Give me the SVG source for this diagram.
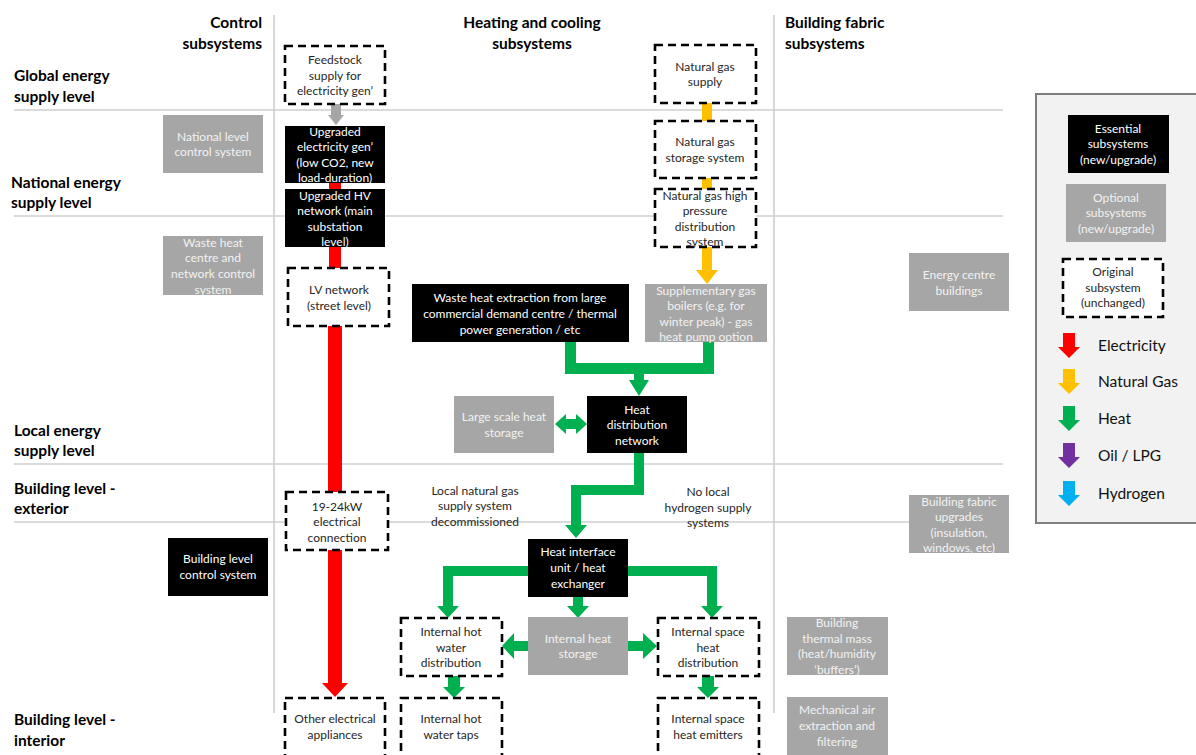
<svg xmlns="http://www.w3.org/2000/svg" width="1196" height="755" viewBox="0 0 1196 755">
<style>
text{font-family:Lato,"Liberation Sans",sans-serif}
.h{font-size:15.5px;font-weight:bold;fill:#000}
.t{font-size:12px;text-anchor:middle}
.tw{fill:#fff}
.tg{fill:#f2f2f2}
.td{fill:#262626}
.lg{font-size:15.5px;fill:#111}
.ess{fill:#000}
.opt{fill:#a6a6a6}
.ori{fill:#fff;stroke:#000;stroke-width:2.6;stroke-dasharray:8 5}
.grid{stroke:#cfcfcf;stroke-width:1.6;fill:none}
.el{fill:#ff0000}.ng{fill:#ffc000}.ht{fill:#00b050}.oil{fill:#7030a0}.hy{fill:#00b0f0}.gr{fill:#a6a6a6}
</style>
<defs>
<path id="la" d="M-6,0 L6,0 L6,14 L11,14 L0,25 L-11,14 L-6,14 Z"/>
</defs>
<rect width="1196" height="755" fill="#fff"/>
<g id="grid">
<line class="grid" x1="14" y1="110" x2="1003" y2="110"/>
<line class="grid" x1="14" y1="216" x2="1003" y2="216"/>
<line class="grid" x1="14" y1="464" x2="1003" y2="464"/>
<line class="grid" x1="14" y1="522" x2="1003" y2="522"/>
<line class="grid" x1="274" y1="15" x2="274" y2="713"/>
<line class="grid" x1="774" y1="15" x2="774" y2="713"/>
</g>
<g id="headers">
<text class="h" x="262" y="28" text-anchor="end">Control</text>
<text class="h" x="262" y="49" text-anchor="end">subsystems</text>
<text class="h" x="532" y="28" text-anchor="middle">Heating and cooling</text>
<text class="h" x="532" y="49" text-anchor="middle">subsystems</text>
<text class="h" x="785" y="28">Building fabric</text>
<text class="h" x="785" y="49">subsystems</text>
<text class="h" x="14" y="81">Global energy</text>
<text class="h" x="14" y="102">supply level</text>
<text class="h" x="11" y="188">National energy</text>
<text class="h" x="11" y="208">supply level</text>
<text class="h" x="14" y="436">Local energy</text>
<text class="h" x="14" y="456">supply level</text>
<text class="h" x="14" y="494">Building level -</text>
<text class="h" x="14" y="514">exterior</text>
<text class="h" x="14" y="725">Building level -</text>
<text class="h" x="14" y="746">interior</text>
</g>
<g id="connectors">
<path class="gr" d="M331,104 L341,104 L341,115 L344,115 L336,125 L328,115 L331,115 Z"/>
<rect class="el" x="329" y="183" width="12" height="7"/>
<rect class="el" x="329" y="246" width="12" height="23"/>
<rect class="el" x="328" y="326" width="14" height="167"/>
<path class="el" d="M328,550 L342,550 L342,683 L348,683 L335,697 L322,683 L328,683 Z"/>
<rect class="ng" x="702" y="102" width="10" height="19"/>
<rect class="ng" x="702" y="177" width="10" height="13"/>
<path class="ng" d="M702,247 L712,247 L712,270 L718,270 L707,284 L696,270 L702,270 Z"/>
<path class="ht" d="M565,342 L576,342 L576,363 L703,363 L703,342 L714,342 L714,374 L644,374 L644,380 L649,380 L639,396 L629,380 L634,380 L634,374 L565,374 Z"/>
<path class="ht" d="M555,424 L566,414 L566,419 L576,419 L576,414 L587,424 L576,434 L576,429 L566,429 L566,434 Z"/>
<path class="ht" d="M634,453 L644,453 L644,495 L581,495 L581,525 L587,525 L576,538 L565,525 L571,525 L571,485 L634,485 Z"/>
<path class="ht" d="M528,566 L528,576 L453,576 L453,606 L459,606 L448,618 L437,606 L443,606 L443,566 Z"/>
<path class="ht" d="M628,566 L717,566 L717,606 L723,606 L712,618 L701,606 L707,606 L707,576 L628,576 Z"/>
<path class="ht" d="M573,596 L583,596 L583,606 L589,606 L578,618 L567,606 L573,606 Z"/>
<path class="ht" d="M528,641 L514,641 L514,633 L502,646 L514,659 L514,651 L528,651 Z"/>
<path class="ht" d="M628,641 L643,641 L643,633 L657,646 L643,659 L643,651 L628,651 Z"/>
<path class="ht" d="M448,676 L460,676 L460,687 L465,687 L454,698 L443,687 L448,687 Z"/>
<path class="ht" d="M702,676 L714,676 L714,687 L719,687 L708,698 L697,687 L702,687 Z"/>
</g>
<g id="n-feedstock"><rect class="ori" x="285" y="46" width="100" height="58"/>
<text class="t td" x="335" y="64">Feedstock</text><text class="t td" x="335" y="80">supply for</text><text class="t td" x="335" y="95">electricity gen’</text></g>
<g id="n-elecgen"><rect class="ess" x="285" y="126" width="100" height="57"/>
<text class="t tw" x="335" y="136">Upgraded</text><text class="t tw" x="335" y="151">electricity gen’</text><text class="t tw" x="335" y="167">(low CO2, new</text><text class="t tw" x="335" y="182">load-duration)</text></g>
<g id="n-hv"><rect class="ess" x="285" y="189" width="100" height="58"/>
<text class="t tw" x="335" y="200">Upgraded HV</text><text class="t tw" x="335" y="215">network (main</text><text class="t tw" x="335" y="231">substation</text><text class="t tw" x="335" y="246">level)</text></g>
<g id="n-lv"><rect class="ori" x="288" y="268" width="101" height="58"/>
<text class="t td" x="339" y="294">LV network</text><text class="t td" x="339" y="310">(street level)</text></g>
<g id="n-conn"><rect class="ori" x="286" y="492" width="102" height="58"/>
<text class="t td" x="337" y="511">19-24kW</text><text class="t td" x="337" y="526">electrical</text><text class="t td" x="337" y="542">connection</text></g>
<g id="n-appl"><rect class="ori" x="285" y="698" width="100" height="62"/>
<text class="t td" x="335" y="723">Other electrical</text><text class="t td" x="335" y="739">appliances</text></g>
<g id="n-natctrl"><rect class="opt" x="163" y="115" width="100" height="58"/>
<text class="t tg" x="213" y="141">National level</text><text class="t tg" x="213" y="156">control system</text></g>
<g id="n-whctrl"><rect class="opt" x="163" y="236" width="100" height="59"/>
<text class="t tg" x="213" y="247">Waste heat</text><text class="t tg" x="213" y="262">centre and</text><text class="t tg" x="213" y="278">network control</text><text class="t tg" x="213" y="294">system</text></g>
<g id="n-bldctrl"><rect class="ess" x="168" y="538" width="100" height="58"/>
<text class="t tw" x="218" y="563">Building level</text><text class="t tw" x="218" y="579">control system</text></g>
<g id="n-ngsupply"><rect class="ori" x="655" y="45" width="101" height="58"/>
<text class="t td" x="705" y="71">Natural gas</text><text class="t td" x="705" y="86">supply</text></g>
<g id="n-ngstore"><rect class="ori" x="655" y="121" width="101" height="57"/>
<text class="t td" x="705" y="146">Natural gas</text><text class="t td" x="705" y="162">storage system</text></g>
<g id="n-nghp"><rect class="ori" x="655" y="189" width="101" height="58"/>
<text class="t td" x="705" y="200">Natural gas high</text><text class="t td" x="705" y="215">pressure</text><text class="t td" x="705" y="231">distribution</text><text class="t td" x="705" y="246">system</text></g>
<g id="n-boilers"><rect class="opt" x="645" y="284" width="122" height="58"/>
<text class="t tg" x="706" y="295">Supplementary gas</text><text class="t tg" x="706" y="310">boilers (e.g. for</text><text class="t tg" x="706" y="326">winter peak) - gas</text><text class="t tg" x="706" y="341">heat pump option</text></g>
<g id="n-waste"><rect class="ess" x="412" y="284" width="217" height="58"/>
<text class="t tw" x="520" y="302">Waste heat extraction from large</text><text class="t tw" x="520" y="318">commercial demand centre / thermal</text><text class="t tw" x="520" y="334">power generation / etc</text></g>
<g id="n-lsstore"><rect class="opt" x="454" y="396" width="100" height="57"/>
<text class="t tg" x="504" y="421">Large scale heat</text><text class="t tg" x="504" y="437">storage</text></g>
<g id="n-hdn"><rect class="ess" x="587" y="396" width="100" height="57"/>
<text class="t tw" x="637" y="414">Heat</text><text class="t tw" x="637" y="429">distribution</text><text class="t tw" x="637" y="445">network</text></g>
<g id="n-nogas"><text class="t td" x="475" y="495">Local natural gas</text><text class="t td" x="475" y="510">supply system</text><text class="t td" x="475" y="526">decommissioned</text></g>
<g id="n-noh2"><text class="t td" x="708" y="496">No local</text><text class="t td" x="708" y="512">hydrogen supply</text><text class="t td" x="708" y="527">systems</text></g>
<g id="n-hiu"><rect class="ess" x="528" y="539" width="100" height="58"/>
<text class="t tw" x="578" y="556">Heat interface</text><text class="t tw" x="578" y="572">unit / heat</text><text class="t tw" x="578" y="588">exchanger</text></g>
<g id="n-hwdist"><rect class="ori" x="401" y="618" width="101" height="58"/>
<text class="t td" x="451" y="636">Internal hot</text><text class="t td" x="451" y="652">water</text><text class="t td" x="451" y="667">distribution</text></g>
<g id="n-intstore"><rect class="opt" x="528" y="617" width="100" height="58"/>
<text class="t tg" x="578" y="643">Internal heat</text><text class="t tg" x="578" y="658">storage</text></g>
<g id="n-shdist"><rect class="ori" x="658" y="618" width="101" height="58"/>
<text class="t td" x="708" y="636">Internal space</text><text class="t td" x="708" y="652">heat</text><text class="t td" x="708" y="667">distribution</text></g>
<g id="n-taps"><rect class="ori" x="401" y="698" width="101" height="62"/>
<text class="t td" x="451" y="723">Internal hot</text><text class="t td" x="451" y="739">water taps</text></g>
<g id="n-emit"><rect class="ori" x="658" y="698" width="101" height="62"/>
<text class="t td" x="708" y="723">Internal space</text><text class="t td" x="708" y="739">heat emitters</text></g>
<g id="n-ecb"><rect class="opt" x="909" y="253" width="100" height="58"/>
<text class="t tg" x="959" y="279">Energy centre</text><text class="t tg" x="959" y="295">buildings</text></g>
<g id="n-fabric"><rect class="opt" x="909" y="495" width="100" height="58"/>
<text class="t tg" x="959" y="506">Building fabric</text><text class="t tg" x="959" y="521">upgrades</text><text class="t tg" x="959" y="537">(insulation,</text><text class="t tg" x="959" y="552">windows, etc)</text></g>
<g id="n-mass"><rect class="opt" x="787" y="617" width="101" height="58"/>
<text class="t tg" x="837" y="627">Building</text><text class="t tg" x="837" y="643">thermal mass</text><text class="t tg" x="837" y="658">(heat/humidity</text><text class="t tg" x="837" y="674">‘buffers’)</text></g>
<g id="n-mech"><rect class="opt" x="787" y="697" width="101" height="63"/>
<text class="t tg" x="837" y="714">Mechanical air</text><text class="t tg" x="837" y="730">extraction and</text><text class="t tg" x="837" y="746">filtering</text></g>
<g id="legend">
<rect x="1036" y="94" width="170" height="429" fill="#f2f2f2" stroke="#7f7f7f" stroke-width="2"/>
<rect class="ess" x="1068" y="115" width="101" height="58"/>
<text class="t tw" x="1118" y="133">Essential</text><text class="t tw" x="1118" y="148">subsystems</text><text class="t tw" x="1118" y="164">(new/upgrade)</text>
<rect class="opt" x="1066" y="184" width="100" height="58"/>
<text class="t tg" x="1116" y="202">Optional</text><text class="t tg" x="1116" y="217">subsystems</text><text class="t tg" x="1116" y="233">(new/upgrade)</text>
<rect class="ori" x="1063" y="259" width="100" height="58"/>
<text class="t td" x="1113" y="276">Original</text><text class="t td" x="1113" y="292">subsystem</text><text class="t td" x="1113" y="307">(unchanged)</text>
<use href="#la" class="el" x="1069" y="333"/>
<use href="#la" class="ng" x="1069" y="369"/>
<use href="#la" class="ht" x="1069" y="406"/>
<use href="#la" class="oil" x="1069" y="443"/>
<use href="#la" class="hy" x="1069" y="481"/>
<text class="lg" x="1098" y="351">Electricity</text>
<text class="lg" x="1098" y="387">Natural Gas</text>
<text class="lg" x="1098" y="424">Heat</text>
<text class="lg" x="1098" y="461">Oil / LPG</text>
<text class="lg" x="1098" y="499">Hydrogen</text>
</g>
</svg>
